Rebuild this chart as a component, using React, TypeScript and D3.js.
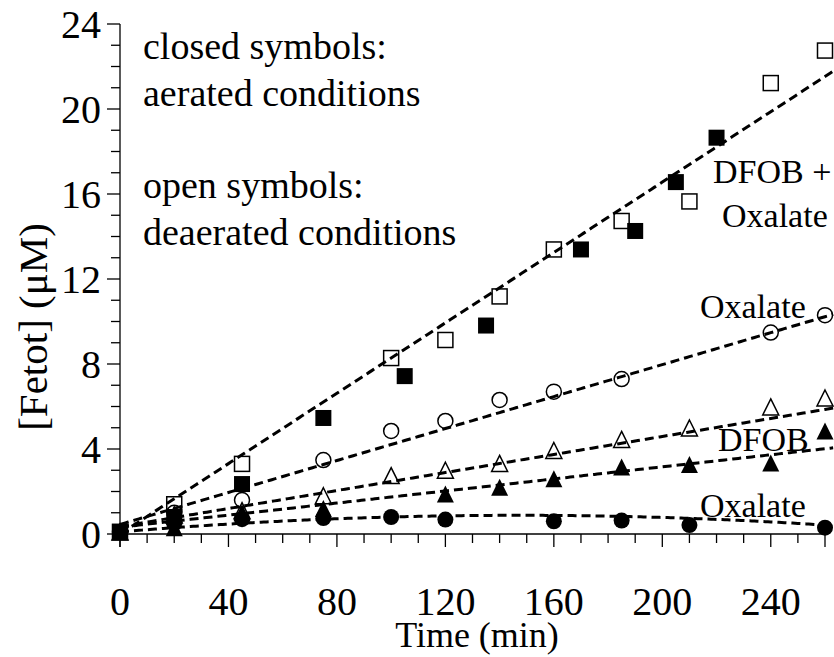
import React from "react";
import * as d3 from "d3";

// Time points (min) and total dissolved Fe (µM) for each treatment
const sqOpenT = [0, 20, 45, 100, 120, 140, 160, 185, 210, 240, 260];
const sqOpenV = [0.1, 1.4, 3.3, 8.28, 9.13, 11.18, 13.39, 14.73, 15.65, 21.22, 22.75];
const sqFillT = [0, 20, 45, 75, 105, 135, 170, 190, 205, 220];
const sqFillV = [0.1, 0.8, 2.35, 5.46, 7.43, 9.81, 13.39, 14.26, 16.56, 18.65];
const ciOpenT = [0, 20, 45, 75, 100, 120, 140, 160, 185, 240, 260];
const ciOpenV = [0.1, 1.0, 1.6, 3.48, 4.85, 5.32, 6.31, 6.7, 7.29, 9.48, 10.3];
const ciFillT = [0, 20, 45, 75, 100, 120, 160, 185, 210, 260];
const ciFillV = [0.1, 0.5, 0.7, 0.75, 0.8, 0.68, 0.6, 0.63, 0.42, 0.3];
const trOpenT = [0, 20, 45, 75, 100, 120, 140, 160, 185, 210, 240, 260];
const trOpenV = [0.1, 0.9, 1.1, 1.8, 2.75, 3.0, 3.32, 3.93, 4.45, 4.99, 5.98, 6.4];
const trFillT = [0, 20, 45, 75, 120, 140, 160, 185, 210, 240, 260];
const trFillV = [0.1, 0.3, 1.0, 1.2, 1.88, 2.2, 2.6, 3.15, 3.27, 3.34, 4.85];

// Trend-line coefficients: v = c0 + c1*t + c2*t^2
const fitSquares = [0.0, 0.0828, 0];
const fitCircOpen = [0.45, 0.0376, 0];
const fitTriOpen = [0.35, 0.0212, 0];
const fitTriFill = [0.32, 0.0142, 0];
const fitCircFill = [0.1, 0.010606, -3.606e-5];
const fitRange = [0, 263];

const xTickVals = [0, 40, 80, 120, 160, 200, 240];
const yTickVals = [0, 4, 8, 12, 16, 20, 24];

const W = 834;
const H = 657;
const FONT = '"Liberation Serif", "DejaVu Serif", serif';

const x = d3.scaleLinear().domain([0, 260]).range([120, 825]);
const y = d3.scaleLinear().domain([0, 24]).range([534, 24]);

type Shape = "square" | "circle" | "triangle";

function Marker({ cx, cy, shape, filled }: { cx: number; cy: number; shape: Shape; filled: boolean }) {
  const fill = filled ? "#000" : "none";
  const stroke = "#000";
  const sw = filled ? 0 : 1.5;
  if (shape === "square") {
    const s = filled ? 16 : 15;
    return <rect x={cx - s / 2} y={cy - s / 2} width={s} height={s} fill={fill} stroke={stroke} strokeWidth={sw} />;
  }
  if (shape === "circle") {
    return <circle cx={cx} cy={cy} r={filled ? 8 : 7.5} fill={fill} stroke={stroke} strokeWidth={sw} />;
  }
  const w = filled ? 17 : 16;
  const h = filled ? 17 : 16;
  const p = d3.path();
  p.moveTo(cx, cy - h / 2);
  p.lineTo(cx + w / 2, cy + h / 2);
  p.lineTo(cx - w / 2, cy + h / 2);
  p.closePath();
  return <path d={p.toString()} fill={fill} stroke={stroke} strokeWidth={sw} strokeLinejoin="miter" />;
}

function Series({ ts, vs, shape, filled }: { ts: number[]; vs: number[]; shape: Shape; filled: boolean }) {
  return (
    <g>
      {ts.map((t, i) => (
        <Marker key={i} cx={x(t)} cy={y(vs[i])} shape={shape} filled={filled} />
      ))}
    </g>
  );
}

function Trend({ c }: { c: number[] }) {
  const ts = d3.range(fitRange[0], fitRange[1] + 0.001, 1);
  const line = d3
    .line<number>()
    .x((t) => x(t))
    .y((t) => y(c[0] + c[1] * t + c[2] * t * t));
  return <path d={line(ts) || ""} fill="none" stroke="#000" strokeWidth={3} strokeDasharray="9,5" />;
}

export default function App() {
  const xMinor = d3.range(0, 261, 10);
  const yMinor = d3.range(0, 25, 1);
  return (
    <svg
      width={W}
      height={H}
      viewBox={`0 0 ${W} ${H}`}
      style={{ position: "absolute", left: 0, top: 0, background: "#fff", fontFamily: FONT }}
    >
      <rect width={W} height={H} fill="#fff" />

      {/* trend lines */}
      <Trend c={fitCircFill} />
      <Trend c={fitTriFill} />
      <Trend c={fitTriOpen} />
      <Trend c={fitCircOpen} />
      <Trend c={fitSquares} />

      {/* axes */}
      <g stroke="#000" strokeWidth={1.3}>
        <line x1={x(0)} x2={x(0)} y1={y(24)} y2={y(0) + 13} />
        <line x1={x(0)} x2={x(260)} y1={y(0)} y2={y(0)} />
        {yMinor.map((v) => (
          <line key={"y" + v} x1={x(0) - (v % 4 === 0 ? 13 : 9)} x2={x(0)} y1={y(v)} y2={y(v)} />
        ))}
        {xMinor.map((t) => (
          <line key={"x" + t} x1={x(t)} x2={x(t)} y1={y(0)} y2={y(0) + (t % 40 === 0 || t === 260 ? 13 : 9)} />
        ))}
      </g>
      <g fontSize={40} fill="#000">
        {yTickVals.map((v) => (
          <text key={v} x={x(0) - 19} y={y(v) + 14} textAnchor="end">
            {v}
          </text>
        ))}
        {xTickVals.map((t) => (
          <text key={t} x={x(t)} y={615} textAnchor="middle">
            {t}
          </text>
        ))}
      </g>
      <text x={477} y={647} fontSize={36} textAnchor="middle">
        Time (min)
      </text>
      <text transform="translate(47,327) rotate(-90)" fontSize={41} textAnchor="middle">
        [Fetot] (μM)
      </text>

      {/* markers */}
      <Series ts={sqOpenT} vs={sqOpenV} shape="square" filled={false} />
      <Series ts={sqFillT} vs={sqFillV} shape="square" filled={true} />
      <Series ts={ciOpenT} vs={ciOpenV} shape="circle" filled={false} />
      <Series ts={ciFillT} vs={ciFillV} shape="circle" filled={true} />
      <Series ts={trOpenT} vs={trOpenV} shape="triangle" filled={false} />
      <Series ts={trFillT} vs={trFillV} shape="triangle" filled={true} />

      {/* annotations */}
      <g fontSize={38} fill="#000">
        <text x={143} y={59}>closed symbols:</text>
        <text x={143} y={106}>aerated conditions</text>
        <text x={143} y={198}>open symbols:</text>
        <text x={143} y={245}>deaerated conditions</text>
      </g>
      <g fontSize={34} fill="#000">
        <text x={713} y={183}>DFOB +</text>
        <text x={722} y={227}>Oxalate</text>
        <text x={700} y={318}>Oxalate</text>
        <text x={718} y={451}>DFOB</text>
        <text x={700} y={517}>Oxalate</text>
      </g>
    </svg>
  );
}
